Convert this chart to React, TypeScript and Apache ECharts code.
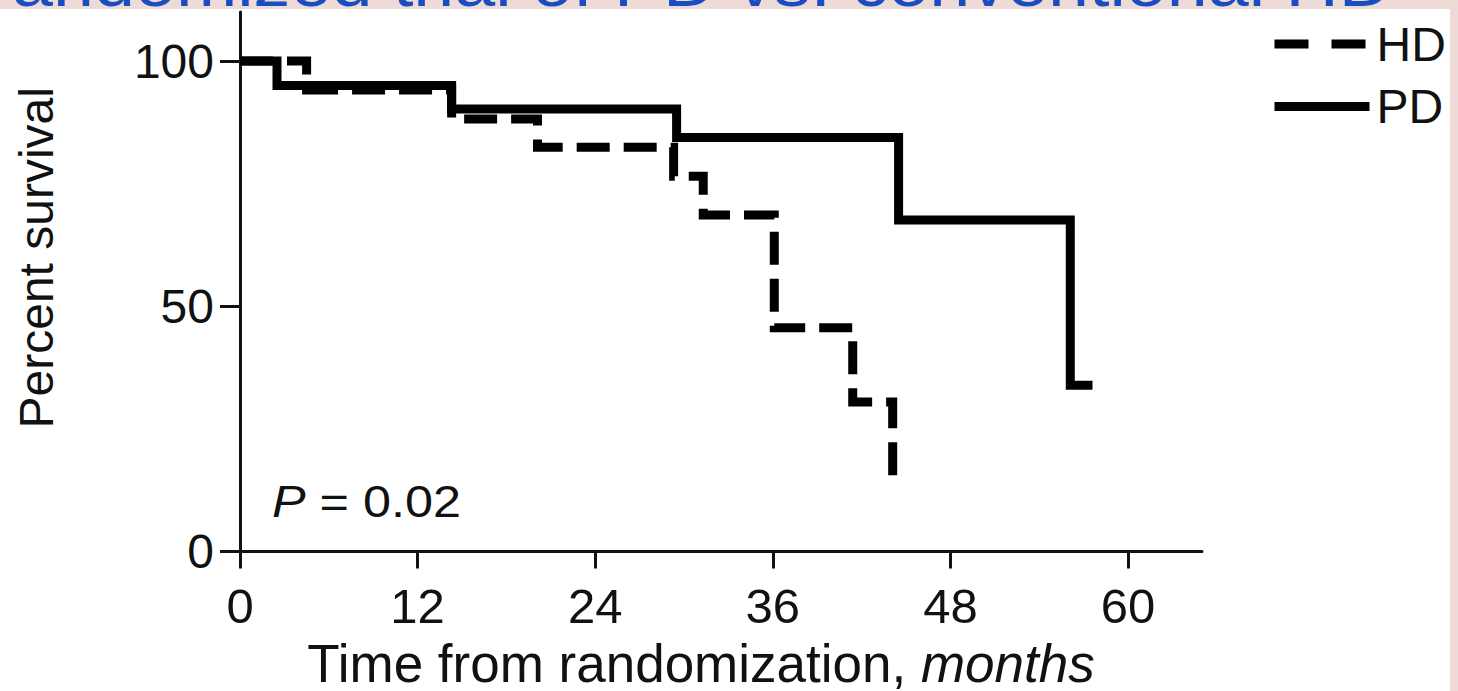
import React, { useEffect, useRef } from "react";
import * as echarts from "echarts";

const FONT = '"Liberation Sans", Arial, Helvetica, sans-serif';
const INK = "#111111";

// Kaplan–Meier steps: month at which the curve steps, and percent surviving from then on
const hdMonths = [0, 4.5, 14.3, 20.1, 29.3, 31.3, 36.1, 41.4, 44.1, 44.8];
const hdSurvival = [100, 94.1, 88.2, 82.4, 76.5, 68.6, 45.6, 30.5, 15.4, 15.4];
const pdMonths = [0, 2.5, 14.3, 29.5, 44.5, 56.1, 57.6];
const pdSurvival = [100, 95, 90.2, 84.4, 67.6, 33.9, 33.9];

const seriesNames = ["HD", "PD"];
const xTicks = [0, 12, 24, 36, 48, 60];
const yTicks = [0, 50, 100];

const titleText = "andomized trial of PD vs. conventional HD";
const pValue = "0.02";

const pairs = (xs: number[], ys: number[]) => xs.map((x, i) => [x, ys[i]]);

export default function App() {
  const ref = useRef<HTMLDivElement>(null);

  useEffect(() => {
    if (!ref.current) return;
    const chart = echarts.init(ref.current, undefined, { renderer: "svg" });

    const option: any = {
      animation: false,
      backgroundColor: "transparent",
      textStyle: { fontFamily: FONT },
      grid: {
        left: 240,
        right: 256,
        top: 12,
        bottom: 139.5,
        containLabel: false,
        outerBoundsMode: "none",
      },
      xAxis: {
        type: "value",
        min: 0,
        max: 65,
        splitLine: { show: false },
        axisLine: { show: true, lineStyle: { color: INK, width: 3 } },
        axisTick: {
          show: true,
          length: 17,
          customValues: xTicks,
          lineStyle: { color: INK, width: 3 },
        },
        axisLabel: {
          customValues: xTicks,
          fontSize: 49,
          color: INK,
          margin: 30,
          fontFamily: FONT,
        },
        name: "Time from randomization, {i|months}",
        nameLocation: "middle",
        nameGap: 90,
        nameTextStyle: {
          fontSize: 53,
          lineHeight: 44,
          color: INK,
          fontFamily: FONT,
          padding: [0, 40, 0, 0],
          rich: {
            i: { fontSize: 53, lineHeight: 44, fontStyle: "italic", color: INK, fontFamily: FONT },
          },
        },
      },
      yAxis: {
        type: "value",
        min: 0,
        max: 110,
        splitLine: { show: false },
        axisLine: { show: true, lineStyle: { color: INK, width: 3 } },
        axisTick: {
          show: true,
          length: 20,
          customValues: yTicks,
          lineStyle: { color: INK, width: 3 },
        },
        axisLabel: {
          customValues: yTicks,
          fontSize: 48,
          color: INK,
          margin: 26,
          fontFamily: FONT,
        },
        name: "Percent survival",
        nameLocation: "middle",
        nameGap: 180,
        nameRotate: 90,
        nameTextStyle: {
          fontSize: 48,
          color: INK,
          fontFamily: FONT,
          padding: [0, 0, 0, 48],
        },
      },
      legend: {
        orient: "vertical",
        left: 1265,
        top: 15,
        itemWidth: 95,
        itemHeight: 12,
        itemGap: 14.5,
        textStyle: { fontSize: 48, color: INK, fontFamily: FONT, padding: [0, 0, 0, 2] },
        itemStyle: { opacity: 0, borderWidth: 0 },
        lineStyle: { width: 9 },
        data: [
          { name: seriesNames[0], lineStyle: { type: [34, 23], width: 9 } },
          { name: seriesNames[1], lineStyle: { width: 9 } },
        ],
      },
      series: [
        {
          name: seriesNames[0],
          type: "line",
          step: "end",
          symbol: "none",
          data: pairs(hdMonths, hdSurvival),
          lineStyle: { color: "#000", width: 9, type: [33, 14], cap: "butt", join: "miter" },
          itemStyle: { color: "#000" },
        },
        {
          name: seriesNames[1],
          type: "line",
          step: "end",
          symbol: "none",
          data: pairs(pdMonths, pdSurvival),
          lineStyle: { color: "#000", width: 9, type: "solid", cap: "butt", join: "miter" },
          itemStyle: { color: "#000" },
        },
      ],
      graphic: [
        {
          type: "text",
          x: 1392,
          y: -17,
          scaleX: 1.1,
          style: {
            text: titleText,
            fontSize: 67,
            fontFamily: FONT,
            fill: "#1a4dbf",
            align: "right",
            verticalAlign: "middle",
          },
        },
        {
          type: "text",
          x: 272,
          y: 501,
          scaleX: 1.12,
          style: {
            text: "{i|P} = " + pValue,
            fontSize: 45,
            fontFamily: FONT,
            fill: INK,
            align: "left",
            verticalAlign: "middle",
            rich: {
              i: { fontSize: 45, fontStyle: "italic", fontFamily: FONT, fill: INK },
            },
          },
        },
      ],
    };

    chart.setOption(option);
    return () => chart.dispose();
  }, []);

  return (
    <div
      style={{
        position: "absolute",
        left: 0,
        top: 0,
        width: 1458,
        height: 691,
        overflow: "hidden",
        background: "#eedad6",
      }}
    >
      <div
        style={{
          position: "absolute",
          left: 0,
          top: 9,
          width: 1450,
          height: 682,
          background: "#ffffff",
        }}
      />
      <div ref={ref} style={{ position: "absolute", left: 0, top: 0, width: 1458, height: 691 }} />
    </div>
  );
}
